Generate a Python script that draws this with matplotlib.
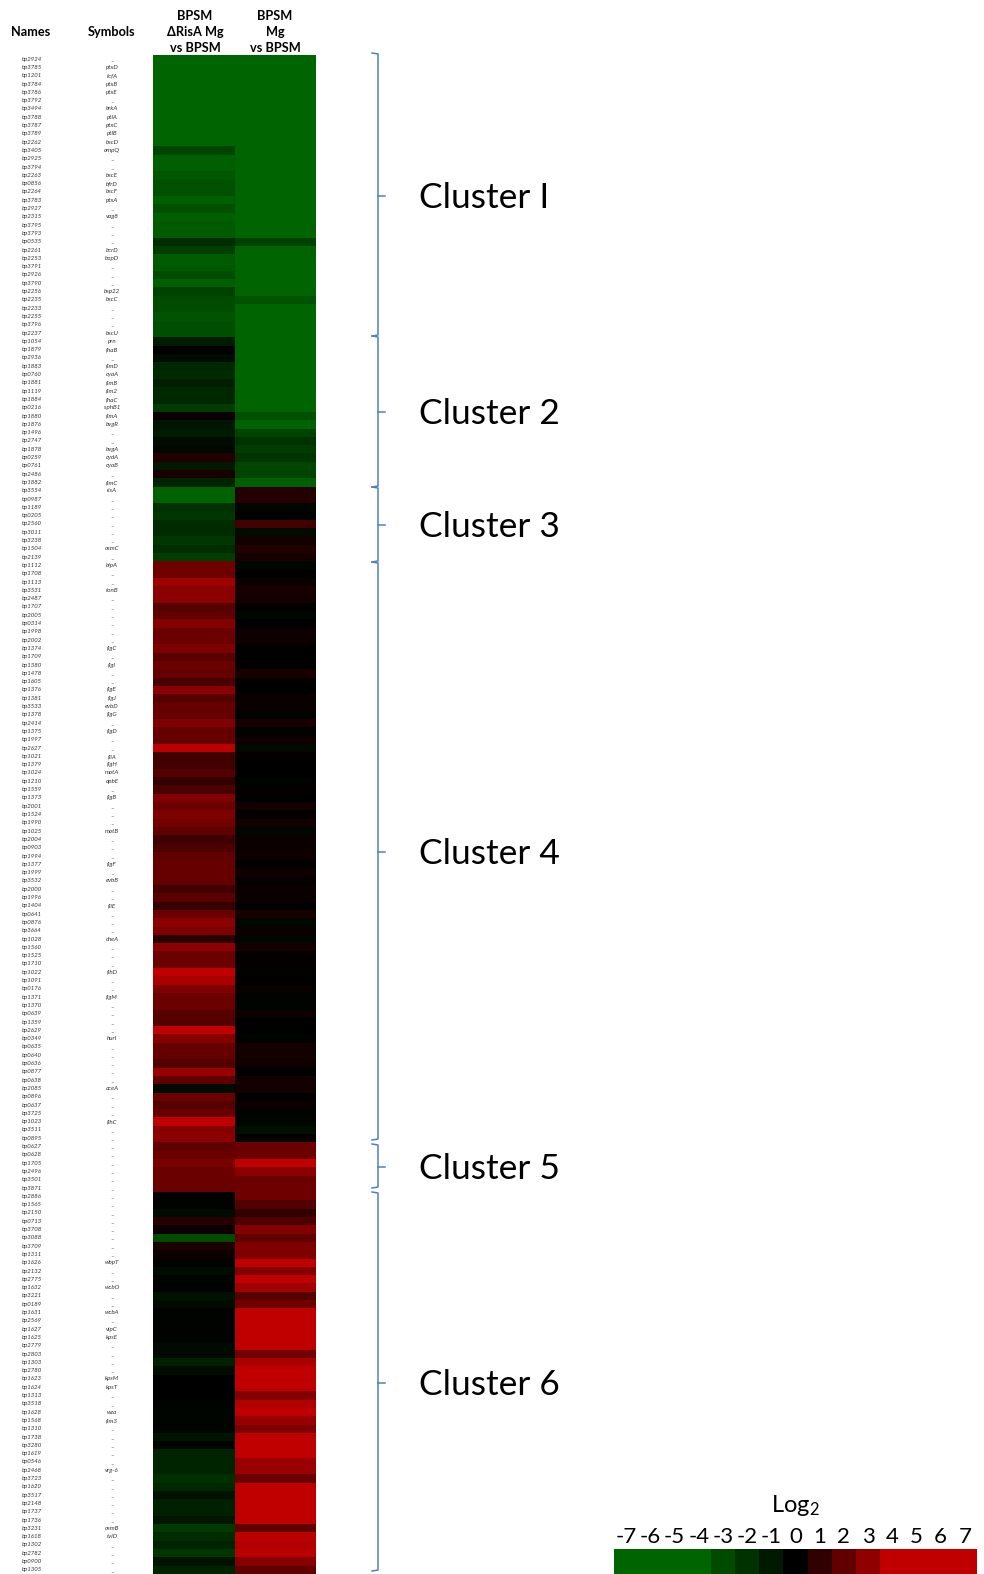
from __future__ import annotations

import matplotlib

matplotlib.use("Agg")
import matplotlib.pyplot as plt
import numpy as np
from matplotlib.colors import LinearSegmentedColormap
from matplotlib.transforms import blended_transform_factory

plt.rcParams["font.family"] = ["Lato", "DejaVu Sans"]
plt.rcParams["mathtext.fontset"] = "custom"
plt.rcParams["mathtext.rm"] = "Lato"
plt.rcParams["mathtext.default"] = "regular"

NAMES = [
    "bp2924", "bp3785", "bp1201", "bp3784", "bp3786", "bp3792", "bp3494", "bp3788", "bp3787", "bp3789",
    "bp2262", "bp3405", "bp2925", "bp3794", "bp2263", "bp0856", "bp2264", "bp3783", "bp2927", "bp2315",
    "bp3795", "bp3793", "bp0535", "bp2261", "bp2253",
    "bp3791", "bp2926", "bp3790", "bp2256", "bp2235", "bp2233", "bp2255", "bp3796", "bp2237", "bp1054",
    "bp1879", "bp2936", "bp1883", "bp0760", "bp1881", "bp1119", "bp1884", "bp0216", "bp1880", "bp1876",
    "bp1496", "bp2747", "bp1878", "bp0259", "bp0761", "bp2486", "bp1882", "bp3554", "bp0987", "bp1189",
    "bp0205",
    "bp2560", "bp3011", "bp3238", "bp1504", "bp2139", "bp1112", "bp1708", "bp1113", "bp3531", "bp2487",
    "bp1707", "bp2005", "bp0314", "bp1998", "bp2002", "bp1374", "bp1709", "bp1380", "bp1478", "bp1605",
    "bp1376", "bp1381", "bp3533", "bp1378", "bp2414", "bp1375", "bp1997", "bp2627", "bp1021", "bp1379",
    "bp1024", "bp1210", "bp1559", "bp1373", "bp2001", "bp1524", "bp1990", "bp1025", "bp2004", "bp0903",
    "bp1994", "bp1377", "bp1999", "bp3532", "bp2000", "bp1996", "bp1404", "bp0641", "bp0876", "bp3664",
    "bp1028", "bp1560", "bp1525", "bp1710", "bp1022", "bp1091", "bp0176", "bp1371", "bp1370", "bp0639",
    "bp1359",
    "bp2629", "bp0349", "bp0635", "bp0640", "bp0636", "bp0877", "bp0638", "bp2085", "bp0896", "bp0637",
    "bp3725", "bp1023", "bp3511", "bp0895", "bp0627", "bp0628", "bp1705", "bp2496", "bp3501", "bp3871",
    "bp2886", "bp1565", "bp2150", "bp0713", "bp3708", "bp3088", "bp3709", "bp1311", "bp1626", "bp2132",
    "bp2775", "bp1632", "bp3221", "bp0189", "bp1631", "bp2569", "bp1627", "bp1625", "bp2779", "bp2803",
    "bp1303", "bp2780", "bp1623", "bp1624", "bp1313", "bp3518", "bp1628", "bp1568", "bp1310", "bp1738",
    "bp3280", "bp1619", "bp0546", "bp2468", "bp3723", "bp1620", "bp3517", "bp2148", "bp1737", "bp1736",
    "bp3231", "bp1618", "bp1302", "bp2782", "bp0900", "bp1305",
]

SYMBOLS = [
    "–", "ptxD", "tcfA", "ptxB", "ptxE", "–", "brkA", "ptlA", "ptxC", "ptlB",
    "bscD", "ompQ", "–", "–", "bscE", "bfrD", "bscF", "ptxA", "–", "vag8",
    "–", "–", "–", "bcrD", "bopD",
    "–", "–", "–", "bsp22", "bscC", "–", "–", "–", "bscU", "prn",
    "fhaB", "–", "fimD", "cyaA", "fimB", "fim2", "fhaC", "sphB1", "fimA", "bvgR",
    "–", "–", "bvgA", "cydA", "cyaB", "–", "fimC", "risA", "–", "–",
    "–",
    "–", "–", "–", "osmC", "–", "bipA", "–", "–", "tonB", "–",
    "–", "–", "–", "–", "–", "flgC", "–", "flgI", "–", "–",
    "flgE", "flgJ", "evbD", "flgG", "–", "flgD", "–", "–", "fliA", "flgH",
    "motA", "opbE", "–", "flgB", "–", "–", "–", "motB", "–", "–",
    "–", "flgF", "–", "evbB", "–", "–", "fliE", "–", "–", "–",
    "cheA", "–", "–", "–", "flhD", "–", "–", "flgM", "–", "–",
    "–",
    "–", "hurI", "–", "–", "–", "–", "–", "aceA", "–", "–",
    "–", "flhC", "–", "–", "–", "–", "–", "–", "–", "–",
    "–", "–", "–", "–", "–", "–", "–", "–", "wbpT", "–",
    "–", "wcbO", "–", "–", "wcbA", "–", "vipC", "kpsE", "–", "–",
    "–", "–", "kpsM", "kpsT", "–", "–", "wza", "fim3", "–", "–",
    "–", "–", "–", "vrg-6", "–", "–", "–", "–", "–", "–",
    "osmB", "tviD", "–", "–", "–", "–",
]

RISA_MG = [
    -4, -4, -4, -4, -4, -4, -4, -4, -4, -4,
    -4, -2.7, -3.8, -3.8, -3.5, -3.2, -3.2, -3.8, -3.2, -3.8,
    -3.6, -3.6, -1.8, -2.5, -3.6,
    -3.6, -3.0, -3.8, -2.6, -3.0, -3.0, -3.3, -3.1, -3.1, -1.1,
    0, -0.5, -1.6, -1.7, -1.2, -1.6, -1.6, -2.4, 0.2, -0.9,
    -1.1, -0.5, -0.3, 0.7, -1.0, 0.5, -1.4, -3.9, -3.9, -2.0,
    -2.2,
    -1.7, -1.7, -2.2, -1.8, -2.5, 2.3, 2.3, 3.3, 2.9, 2.9,
    1.8, 2.0, 2.8, 2.2, 2.2, 2.6, 1.9, 2.2, 2.1, 1.5,
    2.9, 1.8, 2.1, 2.1, 2.6, 2.1, 2.1, 3.9, 1.3, 1.4,
    1.7, 1.1, 1.5, 2.7, 2.2, 2.6, 2.4, 2.0, 1.3, 1.6,
    2.0, 2.1, 2.1, 2.1, 1.4, 1.9, 1.1, 2.2, 2.9, 2.6,
    0.9, 2.9, 2.2, 2.2, 4.0, 3.5, 2.6, 2.2, 2.2, 1.8,
    1.7,
    4.0, 2.8, 2.1, 2.1, 1.7, 3.2, 2.0, -0.5, 2.2, 1.8,
    2.1, 4.0, 2.8, 2.9, 2.0, 2.2, 2.5, 2.2, 2.2, 2.2,
    0, -0.1, -0.4, 0.8, 0.3, -3.0, 0.6, 0.3, -0.1, -0.5,
    -0.2, -0.05, -0.7, -0.5, -0.1, -0.1, -0.1, -0.1, -0.4, -0.4,
    -1.3, -0.5, 0, 0, 0, -0.1, -0.2, -0.2, -0.2, -0.7,
    -0.2, -1.4, -1.4, -1.4, -1.9, -1.6, -0.7, -1.3, -1.3, -0.9,
    -2.3, -1.8, -1.4, -2.2, -0.7, -1.4,
]

MG = [
    -4, -4, -4, -4, -4, -4, -4, -4, -4, -4,
    -4, -4, -4, -4, -4, -4, -4, -4, -4, -4,
    -4, -4, -2.6, -4, -4,
    -4, -4, -4, -4, -3.3, -4, -4, -4, -4, -4,
    -4, -4, -4, -4, -4, -4, -4, -4, -3.2, -3.9,
    -2.7, -2.0, -2.4, -2.1, -2.8, -2.7, -3.8, 0.7, 0.8, -0.2,
    0,
    1.4, -0.5, 0.4, 0.7, 0.5, -0.2, 0, 0.2, 0.5, 0.4,
    0.1, -0.3, 0, 0.3, 0.3, 0, 0, 0, 0.5, 0.1,
    0, 0.2, 0.2, -0.1, 0.5, -0.1, 0.3, -0.4, 0.1, 0,
    0, -0.1, 0.1, 0, 0.4, 0.1, 0.4, -0.3, 0.2, 0.2,
    0.3, 0, 0.3, 0.1, 0.2, 0.2, 0, 0.5, -0.3, 0.2,
    -0.3, 0.4, 0.1, 0.1, -0.1, 0, 0.2, -0.1, -0.1, 0.3,
    0,
    0, -0.1, 0.4, 0.4, 0.3, 0, 0.4, 0.4, 0, 0.2,
    -0.1, -0.2, -0.6, 0.1, 2.2, 2.2, 4, 2.9, 2.2, 2.3,
    2.3, 1.7, 1.0, 1.6, 2.7, 2.0, 2.6, 2.6, 4, 2.7,
    4, 3.4, 1.8, 2.3, 4, 4, 4, 4, 4, 2.4,
    3.5, 4, 4, 4, 2.7, 3.7, 4, 3.1, 2.6, 4,
    4, 4, 3.2, 3.2, 2.2, 4, 4, 4, 4, 4,
    2.0, 3.9, 3.7, 3.9, 2.8, 2.0,
]

COLUMN_LINES = [["BPSM", "ΔRisA Mg", "vs BPSM"], ["BPSM", "Mg", "vs BPSM"]]
LEGEND_VALUES = [-7, -6, -5, -4, -3, -2, -1, 0, 1, 2, 3, 4, 5, 6, 7]
# label, top edge, label tick, bottom edge (pixels from the top of the picture)
CLUSTERS = [
    ("Cluster I", 53, 196, 336),
    ("Cluster 2", 336, 412, 487),
    ("Cluster 3", 487, 525, 562),
    ("Cluster 4", 562, 852, 1140),
    ("Cluster 5", 1144, 1167, 1188),
    ("Cluster 6", 1192, 1383, 1571),
]

WIDTH, HEIGHT = 984, 1574
BRACKET_COLOR = "#4f81bd"
CMAP = LinearSegmentedColormap.from_list(
    "green_black_red", [(0.0, "#006400"), (0.5, "#000000"), (1.0, "#c00000")]
)


def pixel_axes(fig, left, top, right, bottom):
    return fig.add_axes(
        [left / WIDTH, 1 - bottom / HEIGHT, (right - left) / WIDTH, (bottom - top) / HEIGHT]
    )


def draw_brackets(overlay):
    for label, top, tick, bottom in CLUSTERS:
        overlay.plot([372, 378, 378, 372], [top, top + 1, bottom - 1, bottom], color=BRACKET_COLOR, lw=1.1)
        overlay.plot([378, 385], [tick, tick], color=BRACKET_COLOR, lw=1.1)
        overlay.text(419, tick + 2, label, fontsize=25.5, ha="left", va="center", color="black")


def main():
    fig = plt.figure(figsize=(WIDTH / 100, HEIGHT / 100), dpi=100)

    overlay = fig.add_axes([0, 0, 1, 1])
    overlay.set_xlim(0, WIDTH)
    overlay.set_ylim(HEIGHT, 0)
    overlay.axis("off")

    heat = pixel_axes(fig, 153, 55, 316, 1574)
    values = np.column_stack([RISA_MG, MG])
    heat.pcolormesh(values, cmap=CMAP, vmin=-4, vmax=4)
    heat.set_ylim(len(NAMES), 0)
    heat.axis("off")

    row_trans = blended_transform_factory(overlay.transData, heat.transData)
    for i, (name, symbol) in enumerate(zip(NAMES, SYMBOLS)):
        heat_y = i + 0.5
        overlay.text(22, heat_y, name, transform=row_trans, fontsize=4.3, style="italic",
                     ha="left", va="center", color="#333333")
        dash_y = heat_y + 0.3 if symbol == "–" else heat_y
        overlay.text(112, dash_y, symbol, transform=row_trans, fontsize=4.5, style="italic",
                     ha="center", va="center", color="#333333")

    overlay.text(31, 32, "Names", fontsize=9.2, fontweight="bold", ha="center", va="center")
    overlay.text(112, 32, "Symbols", fontsize=9.2, fontweight="bold", ha="center", va="center")
    for x, lines in zip([195, 275], COLUMN_LINES):
        for y, line in zip([16, 32, 48], lines):
            overlay.text(x, y, line, fontsize=9.2, fontweight="bold", ha="center", va="center")

    draw_brackets(overlay)

    legend = pixel_axes(fig, 614, 1549, 977, 1574)
    edges = np.arange(len(LEGEND_VALUES) + 1)
    legend.pcolormesh(edges, [0, 1], np.array([LEGEND_VALUES]), cmap=CMAP, vmin=-4, vmax=4)
    legend.axis("off")
    tick_trans = blended_transform_factory(legend.transData, overlay.transData)
    for i, value in enumerate(LEGEND_VALUES):
        overlay.text(i + 0.5, 1537, str(value), transform=tick_trans, fontsize=16,
                     ha="center", va="center", color="black")
    overlay.text(795, 1505, "Log$_2$", fontsize=17, ha="center", va="center", color="black")

    fig.savefig("out.png", dpi=100)
    plt.close(fig)


if __name__ == "__main__":
    main()
